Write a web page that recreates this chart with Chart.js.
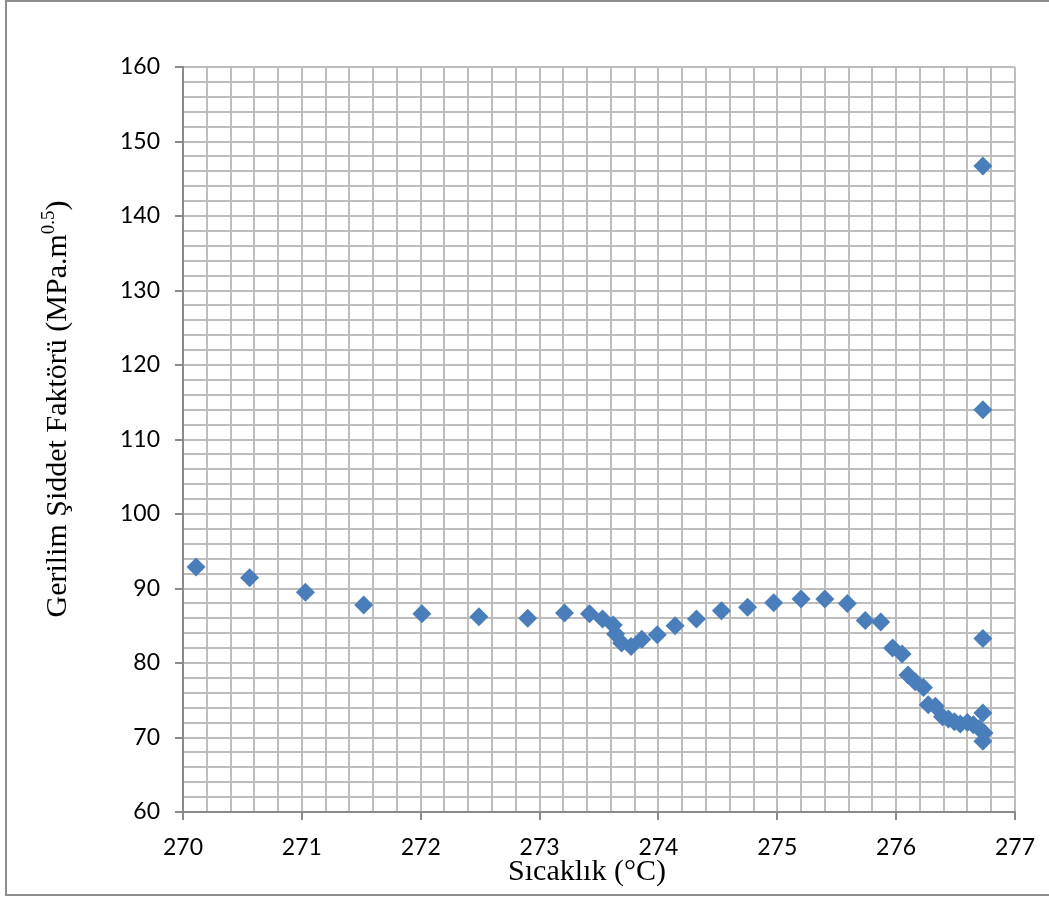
<!DOCTYPE html>
<html>
<head>
<meta charset="utf-8">
<script src="https://cdn.jsdelivr.net/npm/chart.js@4"></script>
<style>
  html, body { margin: 0; padding: 0; background: #ffffff; }
  canvas { display: block; }
</style>
</head>
<body>
<canvas id="chart" width="1049" height="897"></canvas>
<script>
// Measured temperature (°C) and stress intensity factor (MPa·m^0.5)
const temperatures = [
  270.11, 270.56, 271.03, 271.52, 272.01, 272.49, 272.90, 273.21, 273.42, 273.53,
  273.62, 273.64, 273.69, 273.77, 273.86, 273.99, 274.14, 274.32, 274.53, 274.75,
  274.97, 275.20, 275.40, 275.59, 275.74, 275.87, 275.97, 276.05, 276.10, 276.16,
  276.23, 276.27, 276.33, 276.39, 276.44, 276.49, 276.54, 276.60, 276.65, 276.70,
  276.73, 276.74, 276.73, 276.73, 276.73, 276.73
];
const stressFactor = [
  92.9, 91.45, 89.5, 87.8, 86.6, 86.2, 86.0, 86.7, 86.6, 85.9,
  85.1, 83.9, 82.7, 82.2, 83.2, 83.8, 85.0, 85.9, 87.0, 87.5,
  88.1, 88.6, 88.6, 88.0, 85.7, 85.5, 82.0, 81.2, 78.4, 77.5,
  76.7, 74.4, 74.2, 72.8, 72.5, 72.1, 71.8, 72.0, 71.7, 71.2,
  73.3, 70.6, 69.5, 83.3, 114.0, 146.7
];

// Labelled (major) tick values
const xTickLabels = [270, 271, 272, 273, 274, 275, 276, 277];
const yTickLabels = [60, 70, 80, 90, 100, 110, 120, 130, 140, 150, 160];

const xTitle = 'Sıcaklık (°C)';
const yTitleBase = 'Gerilim Şiddet Faktörü (MPa.m';
const yTitleSup = '0.5';
const yTitleClose = ')';

const points = temperatures.map((t, i) => ({ x: t, y: stressFactor[i] }));

const isMajor = (v, list) => list.some(m => Math.abs(m - v) < 1e-6);

const gridColor = '#bdbdbd';
const axisColor = '#8a8a8a';
const tickFont = { family: 'Lato, "Open Sans", sans-serif', size: 23 };

// Frame around the chart plus the serif axis titles (with superscript)
const decorations = {
  id: 'decorations',
  beforeDraw(chart) {
    const ctx = chart.ctx;
    ctx.save();
    ctx.fillStyle = '#ffffff';
    ctx.fillRect(0, 0, chart.width, chart.height);
    ctx.restore();
  },
  afterDraw(chart) {
    const ctx = chart.ctx;
    ctx.save();

    // outer frame
    ctx.strokeStyle = '#8c8c8c';
    ctx.lineWidth = 2;
    ctx.beginPath();
    ctx.moveTo(chart.width, 1);
    ctx.lineTo(6, 1);
    ctx.lineTo(6, 895);
    ctx.lineTo(chart.width, 895);
    ctx.stroke();

    // x axis title
    ctx.fillStyle = '#000000';
    ctx.font = '30px "Liberation Serif", "Times New Roman", serif';
    ctx.textAlign = 'center';
    ctx.textBaseline = 'alphabetic';
    ctx.fillText(xTitle, 587, 880);

    // y axis title, rotated, with superscript exponent
    const mainFont = '30px "Liberation Serif", "Times New Roman", serif';
    const supFont = '19px "Liberation Serif", "Times New Roman", serif';
    ctx.font = mainFont;
    const wBase = ctx.measureText(yTitleBase).width;
    const wClose = ctx.measureText(yTitleClose).width;
    ctx.font = supFont;
    const wSup = ctx.measureText(yTitleSup).width;
    const total = wBase + wSup + wClose;

    ctx.translate(66, 409);
    ctx.rotate(-Math.PI / 2);
    ctx.textAlign = 'left';
    let x = -total / 2;
    ctx.font = mainFont;
    ctx.fillText(yTitleBase, x, 0);
    x += wBase;
    ctx.font = supFont;
    ctx.fillText(yTitleSup, x, -12);
    x += wSup;
    ctx.font = mainFont;
    ctx.fillText(yTitleClose, x, 0);

    ctx.restore();
  }
};

new Chart(document.getElementById('chart'), {
  type: 'scatter',
  data: {
    datasets: [{
      data: points,
      pointStyle: 'rectRot',
      pointRadius: 9.5,
      pointHoverRadius: 9.5,
      backgroundColor: '#4a7ebb',
      borderColor: '#4a7ebb',
      borderWidth: 0
    }]
  },
  options: {
    responsive: false,
    animation: false,
    events: [],
    layout: { padding: { left: 0, top: 67, right: 33, bottom: 0 } },
    plugins: {
      legend: { display: false },
      tooltip: { enabled: false },
      title: { display: false }
    },
    scales: {
      x: {
        type: 'linear',
        min: 270,
        max: 277,
        afterFit(scale) { scale.height = 85; },
        ticks: {
          stepSize: 0.2,
          autoSkip: false,
          maxRotation: 0,
          padding: 14,
          color: '#000000',
          font: tickFont,
          callback: v => isMajor(v, xTickLabels) ? String(Math.round(v)) : ''
        },
        grid: {
          color: gridColor,
          lineWidth: 2,
          drawTicks: true,
          tickLength: 8,
          tickWidth: 2,
          tickColor: ctx => (ctx.tick && isMajor(ctx.tick.value, xTickLabels)) ? axisColor : 'rgba(0,0,0,0)'
        },
        border: { display: true, color: axisColor, width: 2 }
      },
      y: {
        type: 'linear',
        min: 60,
        max: 160,
        afterFit(scale) { scale.width = 183; },
        ticks: {
          stepSize: 2,
          autoSkip: false,
          padding: 15,
          color: '#000000',
          font: tickFont,
          callback: v => isMajor(v, yTickLabels) ? String(Math.round(v)) : ''
        },
        grid: {
          color: gridColor,
          lineWidth: 2,
          drawTicks: true,
          tickLength: 8,
          tickWidth: 2,
          tickColor: ctx => (ctx.tick && isMajor(ctx.tick.value, yTickLabels)) ? axisColor : 'rgba(0,0,0,0)'
        },
        border: { display: true, color: axisColor, width: 2 }
      }
    }
  },
  plugins: [decorations]
});
</script>
</body>
</html>
